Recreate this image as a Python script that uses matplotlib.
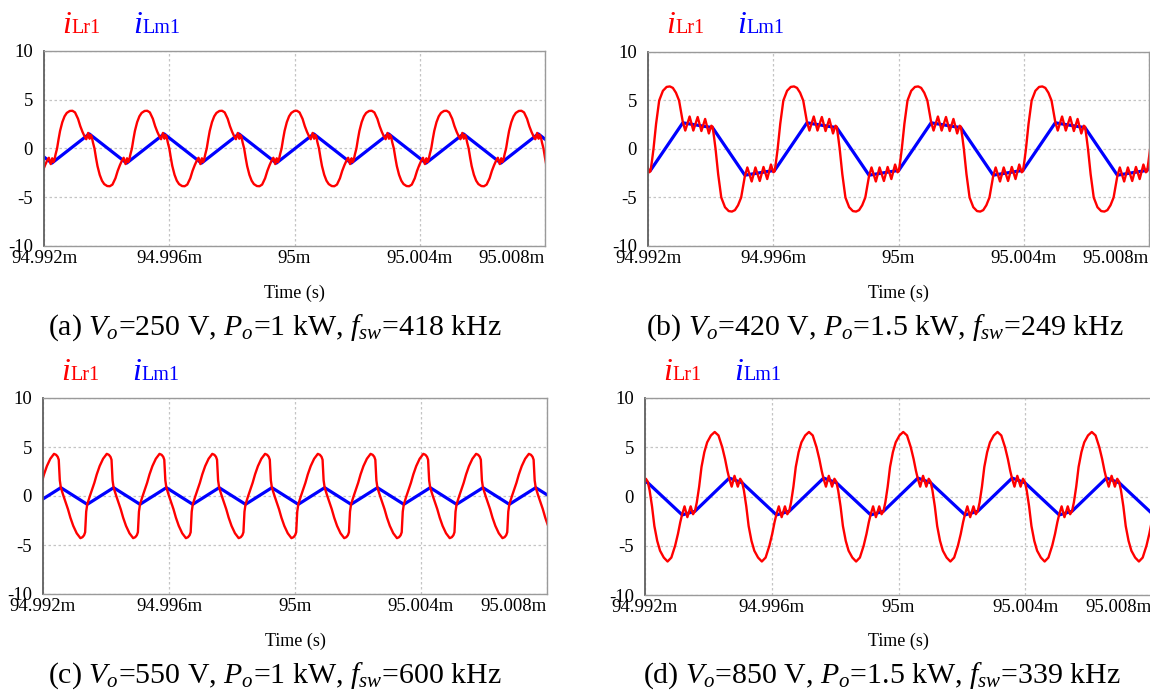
"""
Resonant / magnetizing current waveforms, four operating points (2x2 grid).
"""
import numpy as np
import matplotlib
matplotlib.use("Agg")
import matplotlib.pyplot as plt

# ---- data (time in us after 94.992 ms) ----
X_TICKS_US = [0, 4, 8, 12, 16]
X_TICK_LABELS = ["94.992m", "94.996m", "95m", "95.004m", "95.008m"]
Y_TICKS = [-10, -5, 0, 5, 10]

CAPTIONS = [
    r"(a) $V_o$=250 V, $P_o$=1 kW, $f_{sw}$=418 kHz",
    r"(b) $V_o$=420 V, $P_o$=1.5 kW, $f_{sw}$=249 kHz",
    r"(c) $V_o$=550 V, $P_o$=1 kW, $f_{sw}$=600 kHz",
    r"(d) $V_o$=850 V, $P_o$=1.5 kW, $f_{sw}$=339 kHz",
]

# one switching period of each trace (phase 0..1), repeated over the window
PERIOD_US = [2.39, 3.965, 1.675, 2.975]
PHASE0_US = [0.25, 0.08, 0.567, 1.575]

A_RED_PHASE = [0.005, 0.02, 0.035, 0.05, 0.07, 0.09, 0.11, 0.14, 0.17, 0.20, 0.24, 0.275, 0.31,
               0.35, 0.38, 0.41, 0.44, 0.46, 0.485,
               0.505, 0.52, 0.535, 0.55, 0.57, 0.59, 0.61, 0.64, 0.67, 0.70, 0.74, 0.775, 0.81,
               0.85, 0.88, 0.91, 0.94, 0.96, 0.985]
A_RED = [-1.0, -1.4, -1.15, -0.6, 0.0, 0.95, 1.8, 2.7, 3.3, 3.65, 3.85, 3.87, 3.7,
         3.05, 2.3, 1.7, 1.2, 0.95, 1.6,
         1.0, 1.4, 1.15, 0.6, 0.0, -0.95, -1.8, -2.7, -3.3, -3.65, -3.85, -3.87, -3.7,
         -3.05, -2.3, -1.7, -1.2, -0.95, -1.6]
A_BLUE_PHASE = [0.0, 0.5]
A_BLUE = [-1.5, 1.5]

B_RED_PHASE = [0.000, 0.012, 0.024, 0.045, 0.070, 0.100, 0.130, 0.156, 0.180, 0.205, 0.230,
               0.245, 0.260, 0.280, 0.315, 0.345, 0.380, 0.410, 0.440, 0.470, 0.490,
               0.500, 0.512, 0.524, 0.545, 0.570, 0.600, 0.630, 0.656, 0.680, 0.705, 0.730,
               0.745, 0.760, 0.780, 0.815, 0.845, 0.880, 0.910, 0.940, 0.970, 0.990]
B_RED = [-2.3, -1.2, 0.0, 2.6, 5.0, 6.0, 6.4, 6.45, 6.3, 5.8, 5.0,
         3.9, 2.8, 1.9, 3.35, 1.9, 3.3, 1.85, 3.1, 1.6, 2.4,
         2.3, 1.2, 0.0, -2.6, -5.0, -6.0, -6.4, -6.45, -6.3, -5.8, -5.0,
         -3.9, -2.8, -1.9, -3.35, -1.9, -3.3, -1.85, -3.1, -1.6, -2.4]
B_BLUE_PHASE = [0.0, 0.26, 0.5, 0.76]
B_BLUE = [-2.2, 2.7, 2.2, -2.7]

C_RED_PHASE = [0.00, 0.05, 0.10, 0.135, 0.18, 0.235, 0.30, 0.37, 0.41, 0.44, 0.46, 0.48,
               0.50, 0.55, 0.60, 0.635, 0.68, 0.735, 0.80, 0.87, 0.91, 0.94, 0.96, 0.98]
C_RED = [0.85, 0.0, -0.8, -1.35, -2.2, -3.05, -3.8, -4.3, -4.2, -4.0, -3.7, -1.6,
         -0.85, 0.0, 0.8, 1.35, 2.2, 3.05, 3.8, 4.3, 4.2, 4.0, 3.7, 1.6]
C_BLUE_PHASE = [0.0, 0.5]
C_BLUE = [0.85, -0.85]

D_RED_PHASE = [0.00, 0.02, 0.045, 0.07, 0.10, 0.13, 0.17, 0.21, 0.25, 0.29, 0.32, 0.345,
               0.365, 0.39, 0.42, 0.455, 0.48,
               0.50, 0.52, 0.545, 0.57, 0.60, 0.63, 0.67, 0.71, 0.75, 0.79, 0.82, 0.845,
               0.865, 0.89, 0.92, 0.955, 0.98]
D_RED = [-1.5, -0.6, 1.0, 3.0, 4.5, 5.5, 6.2, 6.55, 6.2, 5.0, 3.8, 2.6,
         1.8, 1.0, 2.1, 1.0, 1.8,
         1.5, 0.6, -1.0, -3.0, -4.5, -5.5, -6.2, -6.6, -6.2, -5.0, -3.8, -2.6,
         -1.8, -1.0, -2.1, -1.0, -1.8]
D_BLUE_PHASE = [0.0, 0.365, 0.5, 0.865]
D_BLUE = [-1.5, 1.87, 1.4, -1.87]

RED_TRACES = [(A_RED_PHASE, A_RED), (B_RED_PHASE, B_RED), (C_RED_PHASE, C_RED), (D_RED_PHASE, D_RED)]
BLUE_TRACES = [(A_BLUE_PHASE, A_BLUE), (B_BLUE_PHASE, B_BLUE), (C_BLUE_PHASE, C_BLUE), (D_BLUE_PHASE, D_BLUE)]

# ---- layout (pixels in a 1150x695 canvas) ----
W, H = 1150, 695
BOXES = [(44, 51, 545, 246), (648, 52, 1149, 246), (43, 398, 547, 594), (645, 398, 1152, 595)]
LEGEND_Y = [33, 33, 380, 380]
TIME_Y = [293, 293, 641, 641]
CAPTION_Y = [328, 328, 676, 676]
CAPTION_X = [275, 885, 275, 882]

C_RED = "#ff0000"
C_BLUE = "#0000ff"

plt.rcParams['font.family'] = ['Liberation Serif', 'DejaVu Serif']
plt.rcParams['mathtext.fontset'] = 'custom'
plt.rcParams['mathtext.rm'] = 'Liberation Serif'
plt.rcParams['mathtext.it'] = 'Liberation Serif:italic'


def repeat_period(phase, vals, period, t0, span=16.0):
    ts, vs = [], []
    k0 = int(np.floor(-t0 / period)) - 1
    k1 = int(np.ceil((span - t0) / period)) + 1
    for k in range(k0, k1):
        for p, v in zip(phase, vals):
            ts.append(t0 + (k + p) * period)
            vs.append(v)
    return ts, vs


fig = plt.figure(figsize=(W / 100, H / 100), dpi=100)

for i in range(4):
    left, top, right, bottom = BOXES[i]
    ax = fig.add_axes([left / W, 1 - bottom / H, (right - left) / W, (bottom - top) / H])

    bt, bv = repeat_period(*BLUE_TRACES[i], PERIOD_US[i], PHASE0_US[i])
    rt, rv = repeat_period(*RED_TRACES[i], PERIOD_US[i], PHASE0_US[i])
    ax.plot(bt, bv, color=C_BLUE, lw=2.3, solid_joinstyle='round')
    ax.plot(rt, rv, color=C_RED, lw=1.7, solid_joinstyle='round')

    ax.set_xlim(0, 16)
    ax.set_ylim(-10, 10)
    ax.set_xticks(X_TICKS_US)
    ax.set_xticklabels(X_TICK_LABELS)
    ax.set_yticks(Y_TICKS)
    ax.set_yticklabels([str(v) for v in Y_TICKS])
    ax.get_xticklabels()[-1].set_horizontalalignment('right')
    ax.tick_params(length=0, labelsize=13.5, colors='black')
    ax.tick_params(axis='y', pad=8)
    ax.tick_params(axis='x', pad=3)
    ax.grid(True, color='#c4c4c4', lw=0.9, linestyle=(0, (2, 2)))

    for side, sp in ax.spines.items():
        sp.set_color('#9a9a9a')
        sp.set_linewidth(1.0)
    ax.spines['left'].set_color('#606060')
    ax.spines['left'].set_linewidth(1.3)

    # legend labels above the plot
    ly = 1 - LEGEND_Y[i] / H
    fig.text((left + 18) / W, ly, "i", style='italic', fontsize=23, color=C_RED, va='baseline')
    fig.text((left + 27) / W, ly, "Lr1", fontsize=14.5, color=C_RED, va='baseline')
    fig.text((left + 89) / W, ly, "i", style='italic', fontsize=23, color=C_BLUE, va='baseline')
    fig.text((left + 98) / W, ly, "Lm1", fontsize=14.5, color=C_BLUE, va='baseline')

    fig.text((left + right) / 2 / W, 1 - TIME_Y[i] / H, "Time (s)", fontsize=13,
             ha='center', va='center')
    fig.text(CAPTION_X[i] / W, 1 - CAPTION_Y[i] / H, CAPTIONS[i], fontsize=21.5,
             ha='center', va='center')

fig.savefig("out.png", dpi=100)
